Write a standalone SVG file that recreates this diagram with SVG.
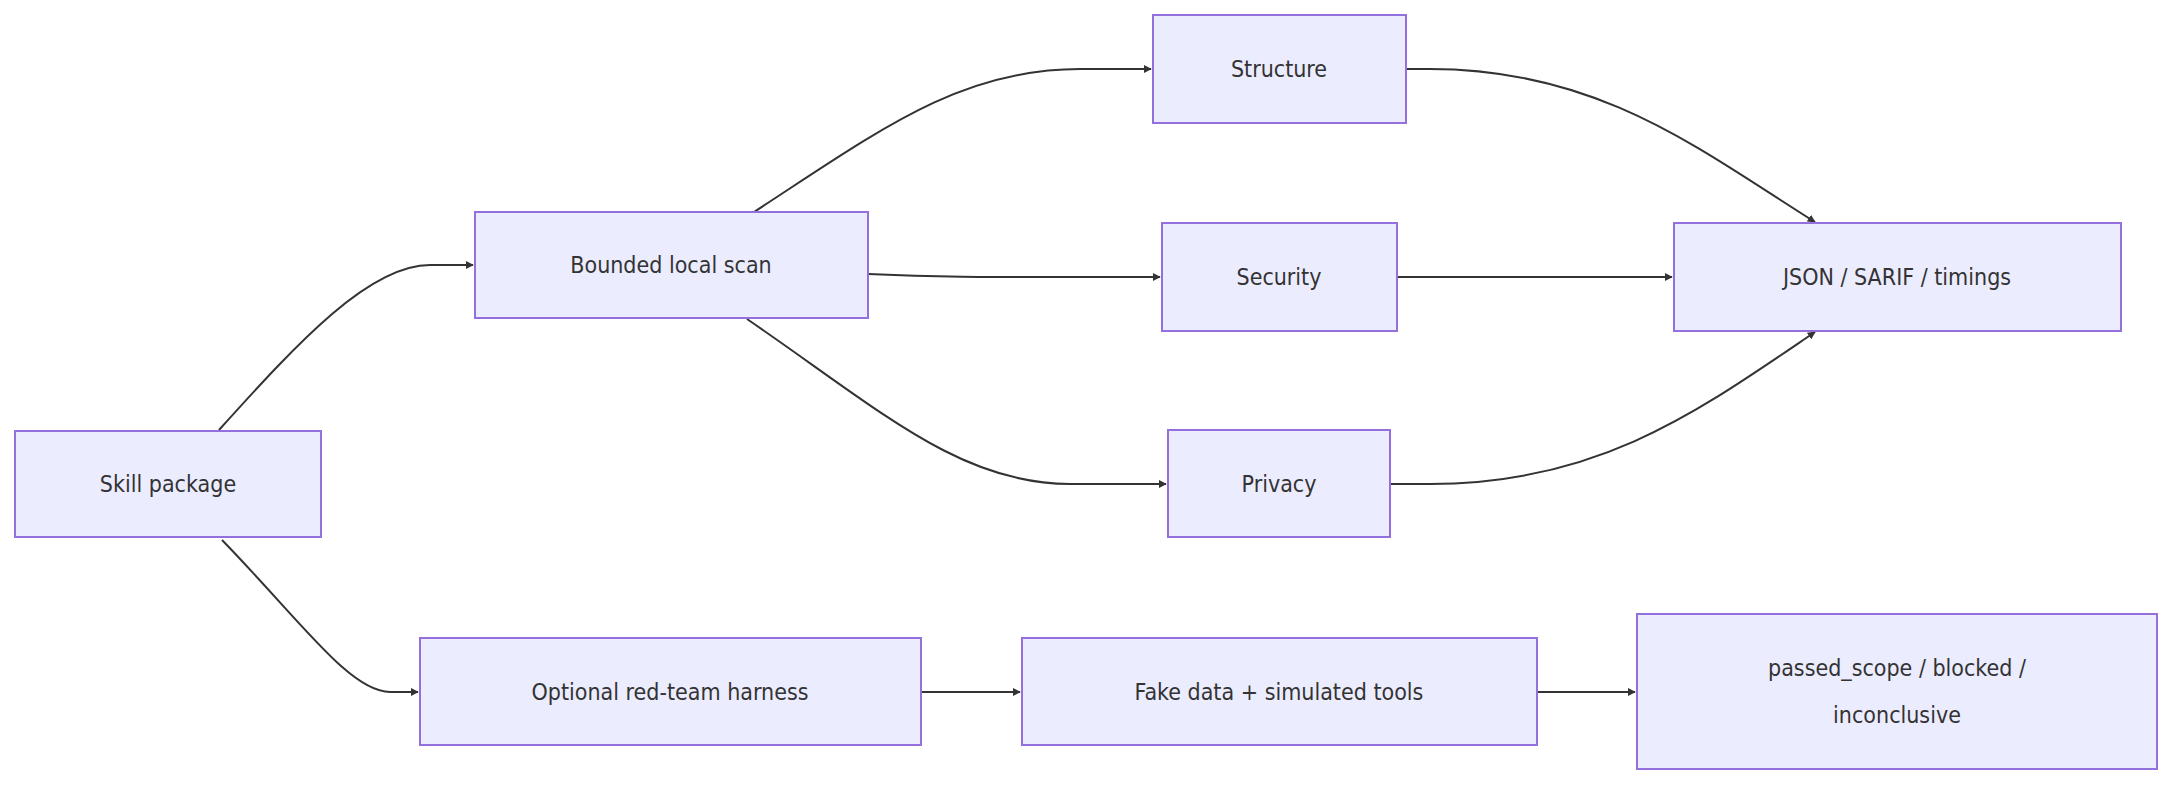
<svg xmlns="http://www.w3.org/2000/svg" width="2178" height="788" viewBox="0 0 2178 788">
<style>
.n rect{fill:#ECECFF;stroke:#9370DB;stroke-width:2}
.n text{font-family:"DejaVu Sans Condensed","DejaVu Sans",sans-serif;font-size:23px;fill:#333;text-anchor:middle;dominant-baseline:central}
.e path{fill:none;stroke:#333;stroke-width:2;marker-end:url(#a)}
</style>
<defs><marker id="a" viewBox="0 0 10 10" refX="9" refY="5" markerWidth="8" markerHeight="8" markerUnits="userSpaceOnUse" orient="auto"><path d="M0,0L10,5L0,10z" fill="#333"/></marker></defs>
<rect width="2178" height="788" fill="#fff"/>
<g class="e">
<path d="M219,430 C300,340 370,265 430,265 L473,265"/>
<path d="M222,540 C300,620 350,692 390,692 L418,692"/>
<path d="M754,212 C880,130 960,69 1080,69 L1151,69"/>
<path d="M868,274 C950,278 1000,277 1160,277"/>
<path d="M747,319 C880,410 960,484 1070,484 L1166,484"/>
<path d="M1406,69 L1430,69 C1600,69 1700,150 1815,222"/>
<path d="M1397,277 L1672,277"/>
<path d="M1390,484 L1430,484 C1600,484 1700,410 1815,332"/>
<path d="M921,692 L1020,692"/>
<path d="M1537,692 L1635,692"/>
</g>
<g id="skill" class="n"><rect x="15" y="431" width="306" height="106"/><text x="168" y="484">Skill package</text></g>
<g id="bounded" class="n"><rect x="475" y="212" width="393" height="106"/><text x="671" y="265">Bounded local scan</text></g>
<g id="structure" class="n"><rect x="1153" y="15" width="253" height="108"/><text x="1279" y="69">Structure</text></g>
<g id="security" class="n"><rect x="1162" y="223" width="235" height="108"/><text x="1279" y="277">Security</text></g>
<g id="privacy" class="n"><rect x="1168" y="430" width="222" height="107"/><text x="1279" y="484">Privacy</text></g>
<g id="json" class="n"><rect x="1674" y="223" width="447" height="108"/><text x="1897" y="277">JSON / SARIF / timings</text></g>
<g id="redteam" class="n"><rect x="420" y="638" width="501" height="107"/><text x="670" y="692">Optional red-team harness</text></g>
<g id="fake" class="n"><rect x="1022" y="638" width="515" height="107"/><text x="1279" y="692">Fake data + simulated tools</text></g>
<g id="result" class="n"><rect x="1637" y="614" width="520" height="155"/><text x="1897" y="668">passed_scope / blocked /</text><text x="1897" y="715">inconclusive</text></g>
</svg>
